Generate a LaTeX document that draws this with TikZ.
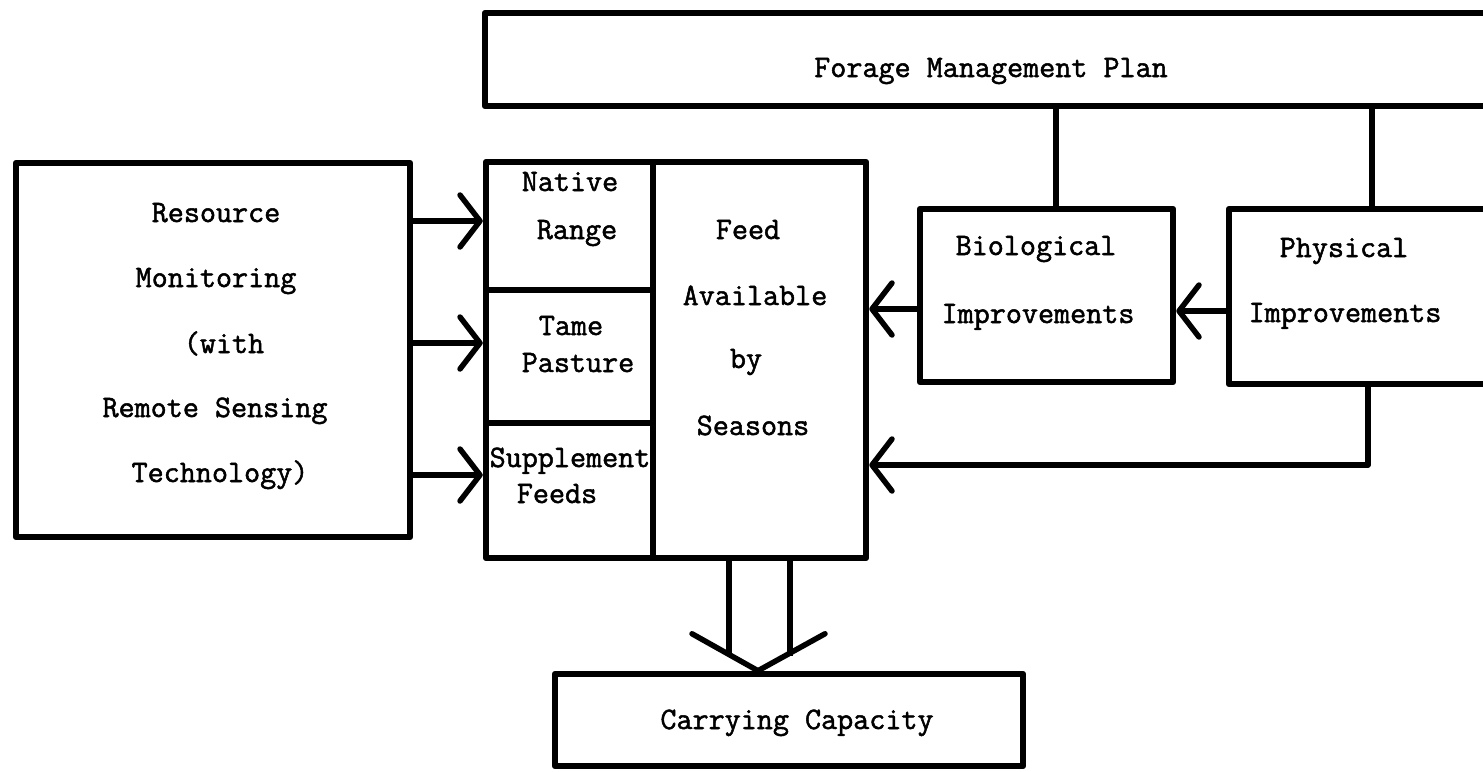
\documentclass[tikz,border=0pt]{standalone}
\usepackage{fontspec}
\newfontfamily\typew{Latin Modern Mono}[FakeBold=1.6]
\usetikzlibrary{arrows.meta,calc}
\begin{document}
\begin{tikzpicture}[x=1pt,y=-1pt,
  box/.style={draw, line width=6.5pt, rectangle, inner sep=0pt, line join=round},
  conn/.style={line width=5.5pt},
  arr/.style={conn, -{Straight Barb[length=20pt,width=52pt,round]}},
  lbl/.style={anchor=base, inner sep=0pt, font=\typew\fontsize{31.2}{36}\selectfont}
]
\useasboundingbox (0,0) rectangle (1483,771);
% boxes
\node[box, minimum width=1020pt, minimum height=93pt] (forage) at (995,59.5) {};
\node[box, minimum width=394pt, minimum height=374pt] (resource) at (213,350) {};
\node[box, minimum width=167pt, minimum height=128pt] (native) at (569.5,226) {};
\node[box, minimum width=167pt, minimum height=133pt] (tame) at (569.5,356.5) {};
\node[box, minimum width=167pt, minimum height=135pt] (supp) at (569.5,490.5) {};
\node[box, minimum width=213pt, minimum height=396pt] (feed) at (759.5,360) {};
\node[box, minimum width=253pt, minimum height=173pt] (bio) at (1046.5,295.5) {};
\node[box, minimum width=276pt, minimum height=175pt] (phys) at (1367,296.5) {};
\node[box, minimum width=468pt, minimum height=92pt] (carry) at (789,720) {};
% texts
\node[lbl] (t0) at (991,77) {Forage Management Plan};
\node[lbl] (t1) at (216,222) {Resource};
\node[lbl] (t2) at (216,287) {Monitoring};
\node[lbl] (t3) at (224,353) {(with};
\node[lbl] (t4) at (215,417) {Remote Sensing};
\node[lbl] (t5) at (220,482) {Technology)};
\node[lbl] (t6) at (570,191) {Native};
\node[lbl] (t7) at (577,239) {Range};
\node[lbl] (t8) at (571,335) {Tame};
\node[lbl] (t9) at (578,372) {Pasture};
\node[lbl] (t10) at (570,467) {Supplement};
\node[lbl] (t11) at (557,503) {Feeds};
\node[lbl] (t12) at (748,239) {Feed};
\node[lbl] (t13) at (755,305) {Available};
\node[lbl] (t14) at (746,368) {by};
\node[lbl] (t15) at (753,435) {Seasons};
\node[lbl] (t16) at (1036,255) {Biological};
\node[lbl] (t17) at (1038,323) {Improvements};
\node[lbl] (t18) at (1344,257) {Physical};
\node[lbl] (t19) at (1345,322) {Improvements};
\node[lbl] (t20) at (797,729) {Carrying Capacity};
% helper coordinates
\coordinate (v1) at (1056,0);
\coordinate (v2) at (1372,0);
\coordinate (fx) at (1368,0);
\coordinate (fy) at (0,465);
\coordinate (ya) at (0,221);
\coordinate (yb) at (0,343);
\coordinate (yc) at (0,475);
\coordinate (yd) at (0,309);
\coordinate (ye) at (0,311);
\coordinate (d1) at (729,0);
\coordinate (d2) at (790,0);
\coordinate (dy) at (0,656);
\coordinate (tx) at (758,0);
\coordinate (tip) at (tx |- carry.north);
% connectors
\draw[conn] (v1 |- forage.south) -- (v1 |- bio.north);
\draw[conn] (v2 |- forage.south) -- (v2 |- phys.north);
\draw[arr] (resource.east |- ya) -- (native.west |- ya);
\draw[arr] (resource.east |- yb) -- (tame.west |- yb);
\draw[arr] (resource.east |- yc) -- (supp.west |- yc);
\draw[arr] (bio.west |- yd) -- (feed.east |- yd);
\draw[arr] (phys.west |- ye) -- (bio.east |- ye);
\draw[arr, line join=round] (fx |- phys.south) -- (fx |- fy) -- (feed.east |- fy);
\draw[conn] (d1 |- feed.south) -- (d1 |- dy);
\draw[conn] (d2 |- feed.south) -- (d2 |- dy);
\draw[conn, line cap=round, line join=round] ($(tip)+(-66,-37)$) -- (tip) -- ($(tip)+(67,-37)$);
\end{tikzpicture}
\end{document}
